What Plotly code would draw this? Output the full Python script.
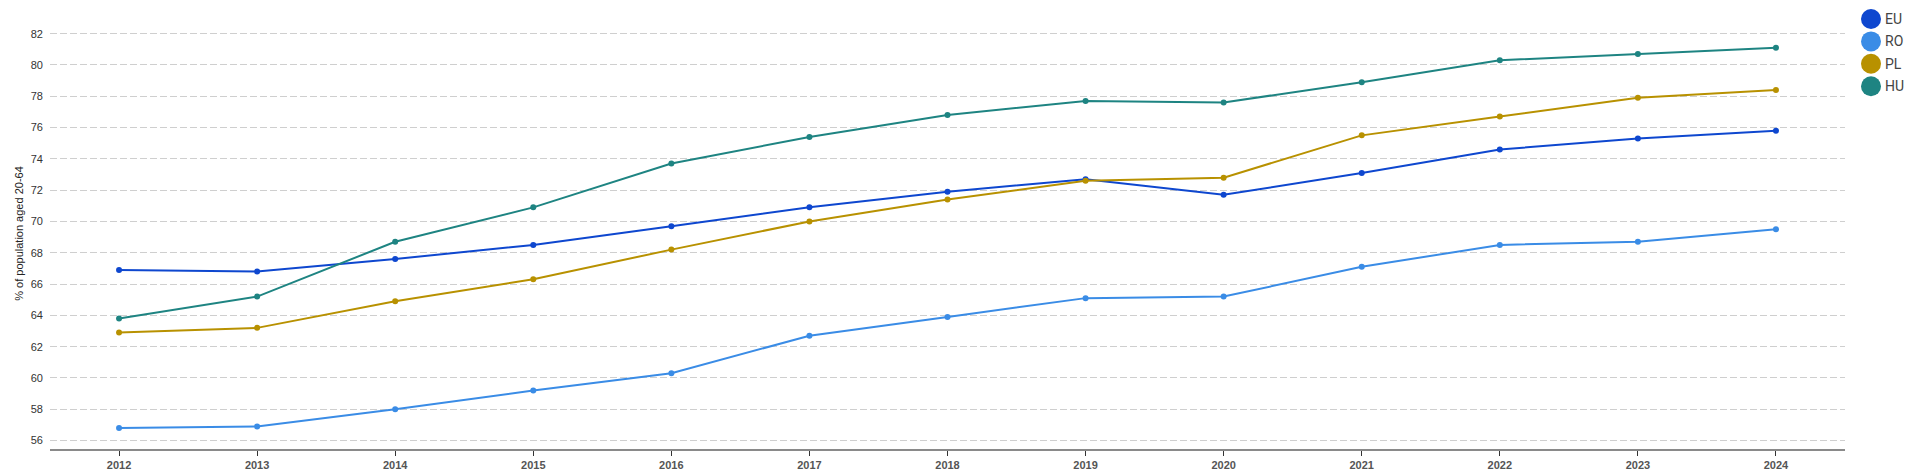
import plotly.graph_objects as go

years = [2012, 2013, 2014, 2015, 2016, 2017, 2018, 2019, 2020, 2021, 2022, 2023, 2024]
eu = [66.9, 66.8, 67.6, 68.5, 69.7, 70.9, 71.9, 72.7, 71.7, 73.1, 74.6, 75.3, 75.8]
ro = [56.8, 56.9, 58.0, 59.2, 60.3, 62.7, 63.9, 65.1, 65.2, 67.1, 68.5, 68.7, 69.5]
pl = [62.9, 63.2, 64.9, 66.3, 68.2, 70.0, 71.4, 72.6, 72.8, 75.5, 76.7, 77.9, 78.4]
hu = [63.8, 65.2, 68.7, 70.9, 73.7, 75.4, 76.8, 77.7, 77.6, 78.9, 80.3, 80.7, 81.1]

series_names = ["EU", "RO", "PL", "HU"]
series_values = [eu, ro, pl, hu]
series_colors = ["#0E47CF", "#3A8CE6", "#B89100", "#1E8482"]
y_ticks = [56, 58, 60, 62, 64, 66, 68, 70, 72, 74, 76, 78, 80, 82]

fig = go.Figure()
for name, vals, col in zip(series_names, series_values, series_colors):
    fig.add_trace(go.Scatter(
        x=years, y=vals, name=name, mode="lines+markers",
        line=dict(color=col, width=2),
        marker=dict(color=col, size=6),
        showlegend=False,
    ))

# manual legend (big circles)
W = 1920 - 50 - 75
H = 476 - 18 - 27
shapes = []
annotations = []
for i, (name, col) in enumerate(zip(series_names, series_colors)):
    cy = 19 + i * 22.4
    px = (1871 - 50) / W
    py = (476 - 27 - cy) / H
    shapes.append(dict(type="circle", xref="paper", yref="paper",
                       xsizemode="pixel", ysizemode="pixel",
                       xanchor=px, yanchor=py, x0=-10, x1=10, y0=-10, y1=10,
                       fillcolor=col, line=dict(width=0)))
    annotations.append(dict(xref="paper", yref="paper", x=(1883 - 50) / W, y=py,
                            text=name, showarrow=False, xanchor="left", yanchor="middle",
                            font=dict(family="Roboto, Arial, sans-serif", size=14, color="#444")))

fig.update_layout(
    width=1920, height=476,
    margin=dict(l=50, r=75, t=18, b=27, autoexpand=False),
    paper_bgcolor="white", plot_bgcolor="white",
    shapes=shapes, annotations=annotations,
    xaxis=dict(
        range=[2011.5, 2024.5], tickvals=years, ticktext=[str(y) for y in years],
        showgrid=False, showline=True, linecolor="#8a8a8a", linewidth=2,
        ticks="outside", ticklen=5, tickcolor="#333", tickwidth=1,
        tickfont=dict(family="Arial, Liberation Sans, sans-serif", size=11, color="#555", weight="bold"),
        zeroline=False, automargin=False,
    ),
    yaxis=dict(
        range=[55.46, 83.0], tickvals=y_ticks,
        showgrid=True, gridcolor="#cfcfcf", gridwidth=1, griddash="7px,3px",
        showline=False, zeroline=False, ticks="", ticklabelstandoff=6,
        tickfont=dict(family="Arial, Liberation Sans, sans-serif", size=11, color="#333"),
        automargin=False,
        title=dict(text="% of population aged 20-64", standoff=4,
                   font=dict(family="Arial, Liberation Sans, sans-serif", size=11, color="#222")),
    ),
)

fig.write_html("out.html", config={"displayModeBar": False},
               post_script="document.body.style.margin='0';document.body.style.overflow='hidden';")
